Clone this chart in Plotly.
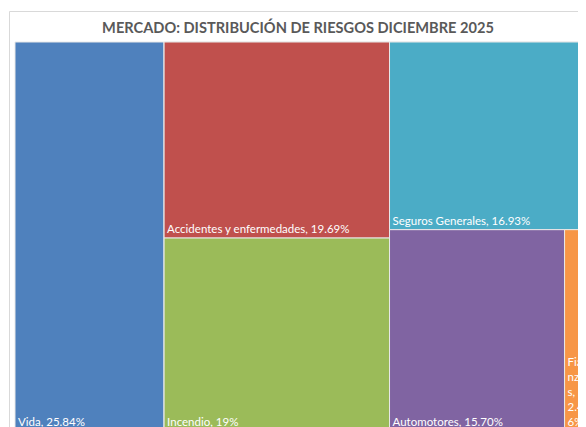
import plotly.graph_objects as go

# ---- data ----
categories = ["Vida", "Accidentes y enfermedades", "Incendio", "Seguros Generales", "Automotores", "Fianzas"]
values = [25.84, 19.69, 19.38, 16.93, 15.70, 2.46]
display_pct = ["25.84%", "19.69%", "19%", "16.93%", "15.70%", "2.46%"]
colors = ["#4F81BD", "#C0504D", "#9BBB59", "#4BACC6", "#8064A2", "#F79646"]
title_text = "MERCADO: DISTRIBUCIÓN DE RIESGOS DICIEMBRE 2025"

# grouping that reproduces the column layout of the original chart
groups = {"Vida": "", "Accidentes y enfermedades": "g1", "Incendio": "g1",
          "Seguros Generales": "g2", "Automotores": "g3", "Fianzas": "g3"}
group_parent = {"g1": "", "g2": "", "g3": "g2"}

ids, parents, vals, labels, texts, mcolors = [], [], [], [], [], []


def add_group(g):
    if g == "" or g in ids:
        return
    add_group(group_parent[g])
    ids.append(g)
    parents.append(group_parent[g])
    vals.append(0)
    labels.append("")
    texts.append("")
    mcolors.append("rgba(0,0,0,0)")


for c, v, p, col in zip(categories, values, display_pct, colors):
    add_group(groups[c])
    t = f"{c}, {p}"
    if c == "Fianzas":
        # narrow tile: the original wraps the label every three characters
        t = "<br>".join(t[i:i + 3].strip() for i in range(0, len(t), 3))
    ids.append(c)
    parents.append(groups[c])
    vals.append(v)
    labels.append(c)
    texts.append(t)
    mcolors.append(col)

fig = go.Figure(go.Treemap(
    ids=ids,
    labels=labels,
    parents=parents,
    values=vals,
    branchvalues="remainder",
    sort=False,
    text=texts,
    texttemplate="%{text}",
    textposition="bottom left",
    textfont=dict(family="Lato", size=11.5, color="white"),
    marker=dict(colors=mcolors, line=dict(color="#E8E8E8", width=1),
                pad=dict(t=0, l=0, r=0, b=0)),
    tiling=dict(packing="slice-dice", pad=0),
    pathbar=dict(visible=False),
    hoverinfo="skip",
    root=dict(color="rgba(0,0,0,0)"),
))

W, H = 600, 440
L, T, R, B = 7, 34, 16, 17
dw, dh = W - L - R, H - T - B

fig.update_layout(
    width=W, height=H,
    margin=dict(l=L, r=R, t=T, b=B, pad=0),
    paper_bgcolor="white",
    plot_bgcolor="white",
    title=dict(text=f"<b>{title_text}</b>", x=290 / W, xanchor="center",
               y=1 - 20 / H, yanchor="middle", yref="container",
               font=dict(family="Lato", size=14.6, color="#595959")),
    shapes=[dict(type="rect", xref="paper", yref="paper",
                 x0=(1.5 - L) / dw, x1=(595 - L) / dw,
                 y0=-0.1, y1=1 + (T - 3.5) / dh,
                 line=dict(color="#D9D9D9", width=1), layer="below")],
)

fig.write_html("out.html",
               post_script="document.documentElement.style.overflow='hidden';"
                           "document.body.style.overflow='hidden';")
